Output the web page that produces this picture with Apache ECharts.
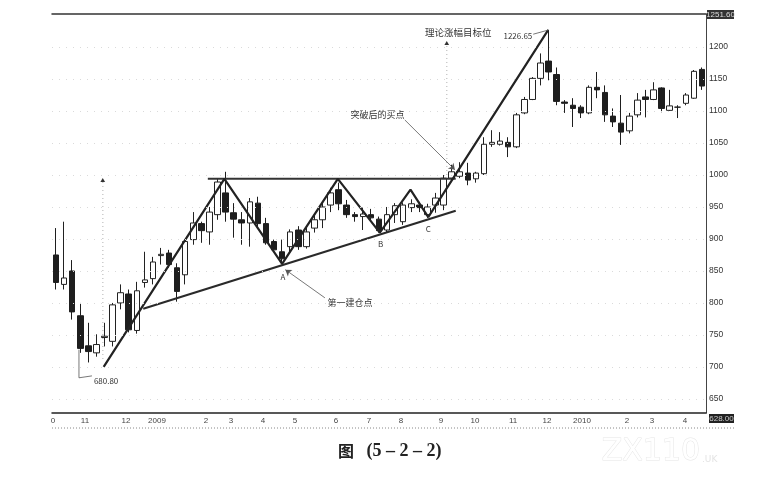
<!DOCTYPE html>
<html><head><meta charset="utf-8">
<script src="https://cdn.jsdelivr.net/npm/echarts@6/dist/echarts.min.js"></script>
<style>html,body{margin:0;padding:0;background:#fff}#c{width:774px;height:479px}</style>
</head><body><div id="c"></div>
<script>
// weekly candles, Oct 2008 - Apr 2010
const opens  = [875,829,850,780,733,722,746,740,800,814,757,832,838,874,878,855,844,899,924,911,938,972,941,930,925,956,924,896,880,888,914,888,917,930,953,977,953,938,935,938,931,914,938,927,949,953,938,953,953,995,998,1003,994,1002,1048,1048,1051,1044,1097,1118,1151,1178,1157,1114,1109,1106,1097,1137,1129,1092,1081,1069,1094,1122,1118,1136,1101,1106,1112,1120,1165];
const closes = [832,839,786,729,724,735,748,797,816,758,819,836,864,876,860,818,896,925,913,942,989,942,931,925,958,924,894,883,869,911,888,911,930,950,972,955,938,935,939,933,913,938,952,953,955,949,950,964,995,1005,1005,992,1003,1048,1051,1053,1044,1094,1118,1151,1175,1161,1115,1112,1104,1097,1137,1133,1094,1083,1067,1092,1117,1118,1133,1104,1108,1106,1125,1162,1139];
const lows   = [821,821,774,722,707,716,732,732,790,754,752,824,829,860,855,802,829,891,894,891,930,927,902,891,888,919,891,880,864,880,883,885,910,917,942,945,933,927,914,927,910,910,925,922,942,942,933,941,945,990,995,984,988,1000,1044,1046,1028,1042,1095,1117,1140,1148,1109,1097,1075,1089,1095,1120,1083,1075,1047,1065,1090,1090,1117,1098,1100,1089,1109,1119,1133];
const highs  = [917,927,867,800,769,751,769,800,829,821,833,880,872,886,883,862,899,942,927,950,995,1005,956,942,964,966,933,899,899,915,920,919,938,958,980,988,961,942,949,947,935,950,956,957,962,958,955,972,1000,1016,1020,1019,1005,1059,1070,1067,1059,1097,1122,1153,1190,1226.65,1168,1117,1120,1109,1140,1161,1140,1104,1125,1097,1128,1133,1145,1137,1133,1109,1128,1164,1168];
const categories = opens.map((_, i) => 'W' + (i + 1));

// month tick labels (position in week units, label text)
const monthTickPos    = [-0.37, 3.59, 8.67, 12.5, 18.57, 21.67, 25.63, 29.6, 34.67, 38.76, 42.72, 47.68, 51.89, 56.6, 60.81, 65.14, 70.71, 73.81, 77.9];
const monthTickLabels = ['0','11','12','2009','2','3','4','5','6','7','8','9','10','11','12','2010','2','3','4'];
const priceTicks = [650,700,750,800,850,900,950,1000,1050,1100,1150,1200];
const priceMin = 628, priceMax = 1251.6;

// pattern lines (week position, price)
const zigzagX = [5.9, 20.85, 28.0, 34.9, 40.1, 43.9, 46.1, 60.96];
const zigzagY = [700, 994, 861, 994, 910, 977, 934, 1226.65];
const necklineX = [18.8, 49.5];
const necklineY = [994, 994];
const supportX = [10.8, 49.5];
const supportY = [791, 944];
const measureLeftX = [5.8, 5.8],  measureLeftY = [989, 711];
const measureRightX = [48.4, 48.4], measureRightY = [1000, 1203];
const lowLeaderX = [2.84, 2.84, 4.45], lowLeaderY = [727, 683, 686];

const pair = (xs, ys) => xs.map((x, i) => [x, ys[i]]);
const candleData = opens.map((o, i) => [o, closes[i], lows[i], highs[i]]);
const tickLabelMap = {};
monthTickPos.forEach((p, i) => { tickLabelMap[String(p)] = monthTickLabels[i]; });

const cjk = "'Noto Sans CJK SC', sans-serif";
const txt = (coord, text, size) => ({
  coord, symbol: 'circle', symbolSize: 0,
  label: { show: true, position: 'inside', formatter: text, color: '#333', fontSize: size || 9, fontFamily: cjk }
});
const arrow = (a, b) => [{ coord: a }, { coord: b }];

const chart = echarts.init(document.getElementById('c'), null, { renderer: 'canvas' });
chart.setOption({
  backgroundColor: '#fff',
  animation: false,
  grid: { left: 52, right: 68, top: 14, bottom: 66 },
  xAxis: [
    { type: 'category', data: categories, boundaryGap: true, position: 'bottom',
      axisLine: { show: true, onZero: false, lineStyle: { color: '#222', width: 1.5 } },
      axisTick: { show: false }, axisLabel: { show: false }, splitLine: { show: false } },
    { type: 'value', min: -0.5, max: 80.5, position: 'top',
      axisLine: { show: true, onZero: false, lineStyle: { color: '#333', width: 1.5 } },
      axisTick: { show: false }, axisLabel: { show: false }, splitLine: { show: false } },
    { type: 'value', min: -0.5, max: 80.5, position: 'bottom',
      axisLine: { show: false, onZero: false }, axisTick: { show: false }, splitLine: { show: false },
      axisLabel: { show: true, customValues: monthTickPos, margin: 4, fontSize: 8,
        color: '#444', fontFamily: 'Liberation Sans',
        formatter: v => tickLabelMap[String(v)] || '' } }
  ],
  yAxis: [{
    type: 'value', position: 'right', min: priceMin, max: priceMax, scale: true,
    axisLine: { show: true, onZero: false, lineStyle: { color: '#444', width: 1 } },
    axisTick: { show: false }, splitLine: { show: false },
    axisLabel: { show: true, customValues: priceTicks, margin: 3, fontSize: 8.5,
      color: '#333', fontFamily: 'Liberation Sans', formatter: v => String(v) }
  }],
  series: [
    { type: 'line', xAxisIndex: 0, yAxisIndex: 0, data: [], silent: true,
      markLine: { silent: true, symbol: 'none', label: { show: false },
        lineStyle: { color: '#dadada', type: [1, 6], width: 1 },
        data: priceTicks.map(v => ({ yAxis: v })) } },
    { type: 'candlestick', xAxisIndex: 0, yAxisIndex: 0, data: candleData, barWidth: 6,
      itemStyle: { color: '#fff', color0: '#1e1e1e', borderColor: '#222', borderColor0: '#1e1e1e', borderWidth: 1 } },
    { type: 'line', xAxisIndex: 1, yAxisIndex: 0, data: pair(measureLeftX, measureLeftY),
      symbol: 'none', silent: true, lineStyle: { color: '#b0b0b0', width: 1, type: [1, 3] } },
    { type: 'line', xAxisIndex: 1, yAxisIndex: 0, data: pair(measureRightX, measureRightY),
      symbol: 'none', silent: true, lineStyle: { color: '#b0b0b0', width: 1, type: [1, 3] } },
    { type: 'line', xAxisIndex: 1, yAxisIndex: 0, data: pair(necklineX, necklineY),
      symbol: 'none', silent: true, lineStyle: { color: '#333', width: 2 } },
    { type: 'line', xAxisIndex: 1, yAxisIndex: 0, data: pair(supportX, supportY),
      symbol: 'none', silent: true, lineStyle: { color: '#2a2a2a', width: 2.2 } },
    { type: 'line', xAxisIndex: 1, yAxisIndex: 0, data: pair(lowLeaderX, lowLeaderY),
      symbol: 'none', silent: true, lineStyle: { color: '#555', width: 0.8 } },
    { type: 'line', xAxisIndex: 1, yAxisIndex: 0, data: pair(zigzagX, zigzagY),
      symbol: 'none', silent: true, lineStyle: { color: '#222', width: 2.2 },
      markPoint: { silent: true, data: [
        txt([49.8, 1223], '理论涨幅目标位', 9.5),
        txt([57.2, 1217], '1226.65', 8),
        txt([39.8, 1094], '突破后的买点', 9),
        txt([36.4, 801], '第一建仓点', 9),
        txt([28.1, 841], 'A', 8),
        txt([40.2, 892], 'B', 8),
        txt([46.1, 916], 'C', 8),
        txt([6.2, 678], '680.80', 8),
        txt([48.4, 1206], '▲', 5),
        txt([5.8, 992], '▲', 5)
      ] },
      markLine: { silent: true, label: { show: false }, symbol: ['none', 'arrow'], symbolSize: 6,
        lineStyle: { color: '#555', width: 0.8, type: 'solid' },
        data: [
          arrow([43.2, 1086], [49.4, 1008]),
          arrow([33.3, 808], [28.4, 852]),
          [{ coord: [59.1, 1220], symbol: 'none' }, { coord: [61.0, 1226.6], symbol: 'none' }]
        ] } }
  ],
  graphic: [
    { type: 'line', shape: { x1: 52, y1: 428, x2: 734, y2: 428 }, style: { stroke: '#888', lineWidth: 1, lineDash: [1, 2] } },
    { type: 'rect', shape: { x: 707, y: 10, width: 27, height: 9 }, style: { fill: '#333' } },
    { type: 'text', x: 720.5, y: 14.5, style: { text: '1251.60', fill: '#ddd', fontSize: 8, fontFamily: 'Liberation Sans', align: 'center', verticalAlign: 'middle' } },
    { type: 'rect', shape: { x: 709, y: 414, width: 25, height: 9 }, style: { fill: '#222' } },
    { type: 'text', x: 721.5, y: 418.5, style: { text: '628.00', fill: '#ccc', fontSize: 8, fontFamily: 'Liberation Sans', align: 'center', verticalAlign: 'middle' } },
    { type: 'text', x: 346, y: 451, style: { text: '图', fill: '#222', fontSize: 16, fontWeight: 'bold', fontFamily: "'Noto Sans CJK SC', sans-serif", align: 'center', verticalAlign: 'middle' } },
    { type: 'text', x: 404, y: 451, style: { text: '(5 – 2 – 2)', fill: '#222', fontSize: 18, fontWeight: 'bold', fontFamily: "'Liberation Serif', serif", align: 'center', verticalAlign: 'middle' } },
    { type: 'text', x: 700, y: 452, style: { text: 'ZX110', fill: '#fff', stroke: '#e6e6e6', lineWidth: 1, fontSize: 30, fontFamily: 'DejaVu Sans', align: 'right', verticalAlign: 'middle' } },
    { type: 'text', x: 702, y: 460, style: { text: '.UK', fill: '#e4e4e4', fontSize: 9, fontFamily: 'DejaVu Sans', align: 'left', verticalAlign: 'middle' } }
  ]
});
</script>
</body></html>
